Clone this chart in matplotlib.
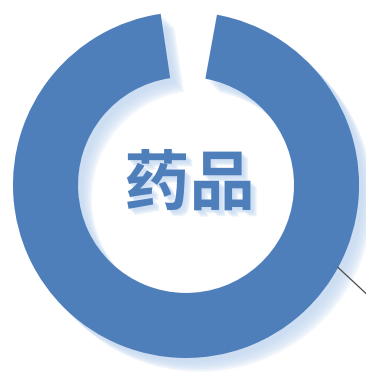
import matplotlib.pyplot as plt
import matplotlib.patheffects as pe
import numpy as np

plt.rcParams['font.family'] = ['Noto Sans CJK SC', 'DejaVu Sans']

# ring share: drug share vs. the small remainder left as a gap
labels = ['药品', '其他']
shares = [94.8, 5.2]
center_label = '药品'

blue = '#4f7fbb'
shadow = '#c6daf2'

fig = plt.figure(figsize=(3.66, 3.74), dpi=100)
fig.patch.set_facecolor('white')
ax = fig.add_axes([0, 0, 1, 1])

# soft drop shadow built from stacked offset copies
ring_fx = [pe.SimplePatchShadow(offset=(d, -d), shadow_rgbFace=shadow, alpha=0.2)
           for d in (3, 4, 5, 6, 7, 8, 9, 10)] + [pe.Normal()]

wedges, _ = ax.pie(shares, colors=[blue, 'none'], startangle=79.7,
                   counterclock=False, radius=1.0,
                   wedgeprops=dict(width=0.376, linewidth=0))
wedges[0].set_path_effects(ring_fx)

# leader line off the outer edge
a = np.deg2rad(-28.5)
x0, y0 = np.cos(a), np.sin(a)
ax.plot([x0, x0 + 0.2], [y0, y0 - 0.186], color='#4a4a4a', lw=0.9,
        clip_on=False, zorder=3)

text_fx = [pe.SimplePatchShadow(offset=(d, -d), shadow_rgbFace=shadow, alpha=0.35)
           for d in (1.5, 2.5, 3.5, 4.5)] + [pe.Normal()]
ax.text(0.02, 0.0, center_label, ha='center', va='center', fontsize=47,
        fontweight='bold', color=blue, path_effects=text_fx)

ax.set_aspect('auto')
ax.set_xlim(-1.075, 1.040)
ax.set_ylim(-1.0925, 1.069)
ax.axis('off')

fig.savefig('out.png', dpi=100, facecolor='white')
